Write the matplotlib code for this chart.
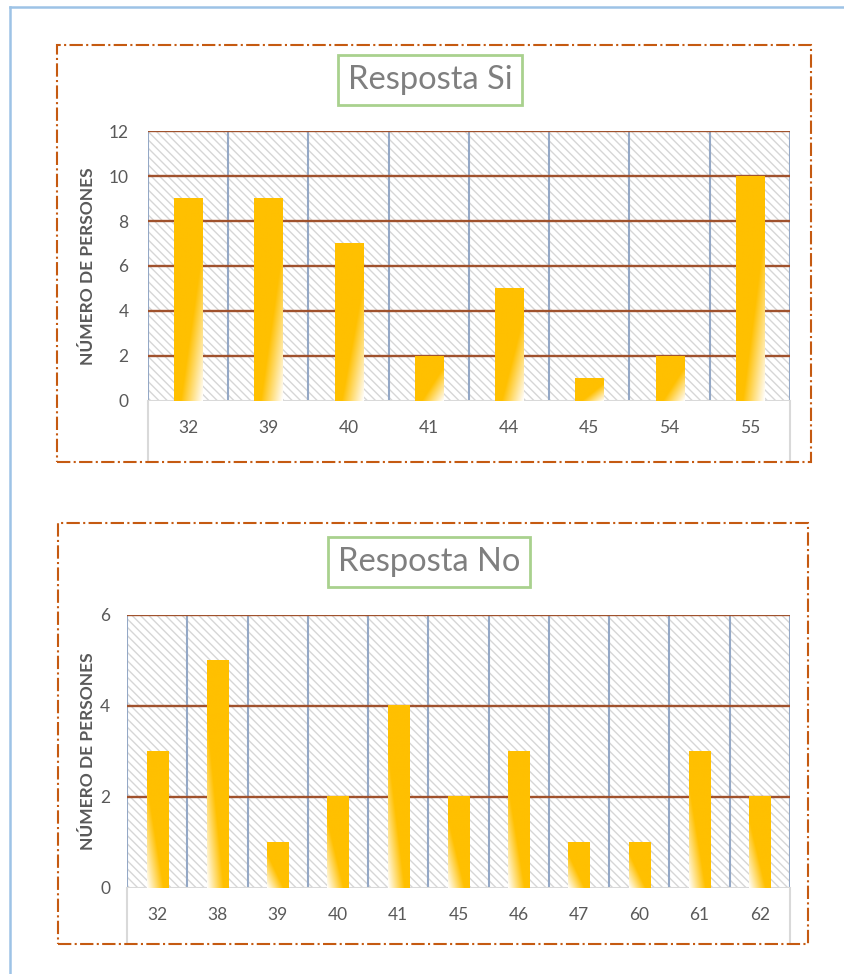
import numpy as np
import matplotlib
matplotlib.use("Agg")
import matplotlib.pyplot as plt
from matplotlib.patches import Rectangle
from matplotlib.lines import Line2D
from matplotlib.colors import to_rgb

plt.rcParams['font.family'] = ['Lato', 'DejaVu Sans']
plt.rcParams['hatch.linewidth'] = 1.0
plt.rcParams['hatch.color'] = '#D6D6D6'

# edats i nombre de persones per resposta
si_edats = ['32', '39', '40', '41', '44', '45', '54', '55']
si_persones = [9, 9, 7, 2, 5, 1, 2, 10]
si_yticks = [0, 2, 4, 6, 8, 10, 12]

no_edats = ['32', '38', '39', '40', '41', '45', '46', '47', '60', '61', '62']
no_persones = [3, 5, 1, 2, 4, 2, 3, 1, 1, 3, 2]
no_yticks = [0, 2, 4, 6]

GOLD = '#FFC000'
TEXT = '#595959'
GRID_H = '#A0522D'
GRID_V = '#94A8C6'
AXIS = '#D9D9D9'
FRAME = '#C55A11'


def gradient_image(fade_right):
    # gold at the top, fading to white towards one bottom corner
    n = 64
    u = np.linspace(0, 1, n)[None, :]
    v = np.linspace(0, 1, n)[:, None]
    if not fade_right:
        u = 1 - u
    t = 0.5 * u + 0.5 * v
    w = np.clip((t - 0.62) / 0.38, 0, 1)[..., None]
    gold = np.array(to_rgb(GOLD))
    return gold * (1 - w) + np.ones(3) * w


def draw_chart(ax, cats, vals, yticks, fade_right, ext, pad_y, ylab_x):
    n = len(cats)
    ymax = yticks[-1]
    ax.set_xlim(-0.5, n - 0.5)
    ax.set_ylim(0, ymax)

    ax.add_patch(Rectangle((0, 0), 1, 1, transform=ax.transAxes, facecolor='white',
                           edgecolor='#D6D6D6', hatch='\\\\\\\\', lw=0, zorder=0))
    for i in range(n + 1):
        ax.axvline(i - 0.5, color=GRID_V, lw=1.5, zorder=1)
    for y in yticks[1:]:
        ax.axhline(y, color=GRID_H, lw=1.7, zorder=1.5)

    img = gradient_image(fade_right)
    width = 0.35
    for i, h in enumerate(vals):
        ax.imshow(img, extent=[i - width / 2, i + width / 2, 0, h], aspect='auto',
                  interpolation='bilinear', zorder=2)
    ax.set_xlim(-0.5, n - 0.5)
    ax.set_ylim(0, ymax)

    for s in ax.spines.values():
        s.set_visible(False)
    ax.axhline(0, color=AXIS, lw=1.5, zorder=1.6)
    for xf in (0, 1):
        ax.add_line(Line2D([xf, xf], [0, -ext], transform=ax.transAxes, color=AXIS,
                           lw=1.5, clip_on=False))

    ax.set_xticks(range(n))
    ax.set_xticklabels(cats)
    ax.set_yticks(yticks)
    ax.tick_params(axis='x', length=0, pad=14, labelsize=12.5, labelcolor=TEXT)
    ax.tick_params(axis='y', length=0, pad=pad_y, labelsize=12.5, labelcolor=TEXT)
    ax.text(ylab_x, 0.5, 'NÚMERO DE PERSONES', transform=ax.transAxes, rotation=90,
            ha='center', va='center', fontsize=12.5, fontweight='bold', color=TEXT)


fig = plt.figure(figsize=(8.45, 9.74), dpi=100)

# marc exterior
fig.add_artist(Line2D([0.0118, 0.0118], [0, 0.9928], color='#9DC3E6', lw=1.8))
fig.add_artist(Line2D([0.0118, 1.0], [0.9928, 0.9928], color='#9DC3E6', lw=1.8))

# marcs de cada gràfic
fig.add_artist(Rectangle((0.0675, 0.5257), 0.8923, 0.4281, transform=fig.transFigure,
                         fill=False, edgecolor=FRAME, lw=1.5, ls='-.'))
fig.add_artist(Rectangle((0.0686, 0.0308), 0.8876, 0.4322, transform=fig.transFigure,
                         fill=False, edgecolor=FRAME, lw=1.5, ls='-.'))

ax1 = fig.add_axes([0.1751, 0.5883, 0.7598, 0.2772])
draw_chart(ax1, si_edats, si_persones, si_yticks, True, 0.226, 14, -0.0935)

ax2 = fig.add_axes([0.1503, 0.0883, 0.7846, 0.2803])
draw_chart(ax2, no_edats, no_persones, no_yticks, False, 0.205, 12, -0.0588)

title_box = dict(boxstyle='square,pad=0.3', facecolor='white', edgecolor='#A9D18E', lw=2)
fig.text(0.509, 0.918, 'Resposta Si', ha='center', va='center', fontsize=23.5,
         color='#7F7F7F', bbox=title_box)
fig.text(0.5077, 0.423, 'Resposta No', ha='center', va='center', fontsize=23.5,
         color='#7F7F7F', bbox=title_box)

fig.savefig('out.png', dpi=100, facecolor='white')
